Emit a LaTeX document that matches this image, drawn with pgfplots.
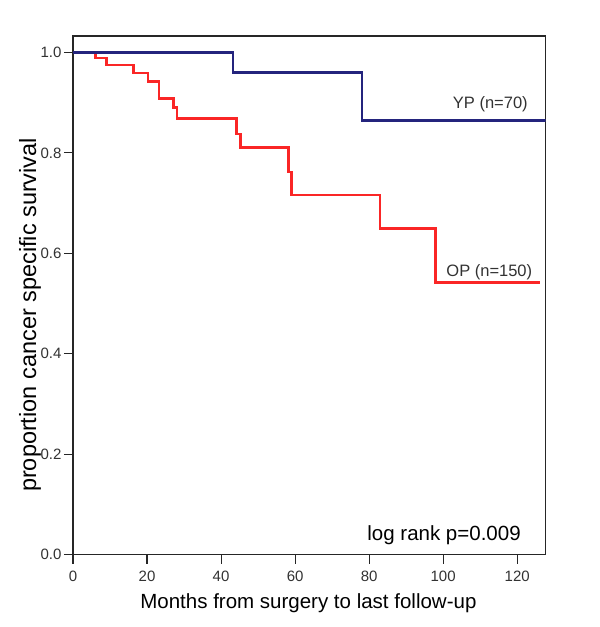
\documentclass[border=0pt]{standalone}
\usepackage{pgfplots}
\pgfplotsset{compat=1.18}
\usepackage{fontspec}
\setmainfont{Liberation Sans}

\definecolor{ypblue}{RGB}{36,36,125}
\definecolor{opred}{RGB}{250,38,38}
\definecolor{tickgray}{RGB}{50,50,50}

\begin{document}
\begin{tikzpicture}
\begin{axis}[
scale only axis,
width=472.7pt, height=518.5pt,
xmin=0, xmax=127.7,
ymin=0, ymax=1.033,
axis line style={line width=1.2pt, black!85},
tick pos=left,
tick align=outside,
major tick length=9pt,
tick style={line width=1.1pt, black!85},
xtick={0,20,40,60,80,100,120},
ytick={0,0.2,0.4,0.6,0.8,1.0},
/pgf/number format/assume math mode=true,
ticklabel style={font=\fontsize{15}{17}\selectfont, text=tickgray},
xticklabel style={yshift=-4pt},
yticklabel style={xshift=1pt, /pgf/number format/.cd, fixed, fixed zerofill, precision=1},
xlabel={Months from surgery to last follow-up},
ylabel={proportion cancer specific survival},
xlabel style={font=\fontsize{20.5}{24}\selectfont, at={(axis description cs:0.498,-0.0935)}, anchor=center},
ylabel style={font=\fontsize{23.5}{27}\selectfont, at={(axis description cs:-0.091,0.462)}, anchor=center},
]
\coordinate (o) at (rel axis cs:0,0);
\addplot [const plot, line width=2.6pt, opred] coordinates {
(0,1.0) (6.1,0.989) (9.1,0.975) (16.3,0.959) (20.3,0.942) (23.2,0.908)
(27.2,0.890) (28.1,0.869) (44.1,0.838) (45.2,0.811) (58.2,0.762)
(59.1,0.716) (82.9,0.650) (98.0,0.542) (126.1,0.542)
};
\addplot [const plot, line width=2.6pt, ypblue] coordinates {
(0,1.0) (43.2,0.960) (78.1,0.865) (127.7,0.865)
};
\node[anchor=east, inner sep=0pt, font=\fontsize{16.5}{19}\selectfont, text=tickgray] at (axis cs:122.9,0.897) {YP (n=70)};
\node[anchor=east, inner sep=0pt, font=\fontsize{16.5}{19}\selectfont, text=tickgray] at (axis cs:124.1,0.563) {OP (n=150)};
\node[anchor=east, inner sep=0pt, font=\fontsize{20.5}{24}\selectfont] at (axis cs:121.0,0.039) {log rank p=0.009};
\end{axis}
\path ([shift={(-73pt,-72.5pt)}]o) rectangle ++(600pt,627pt);
\end{tikzpicture}
\end{document}
